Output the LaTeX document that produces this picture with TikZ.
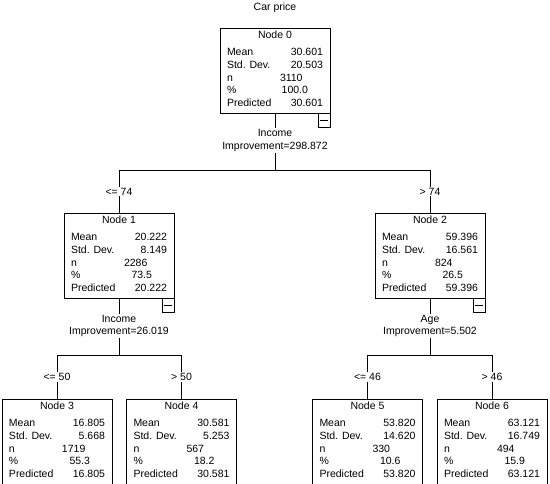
\documentclass[tikz,border=0pt]{standalone}
\usepackage{fontspec}
\setmainfont{Liberation Sans}
\usetikzlibrary{positioning}

\newcommand{\nodestats}[6]{%
  \makebox[96pt][c]{#1}\\[4.6pt]
  \makebox[96pt][l]{Mean\hfill #2}\\
  \makebox[96pt][l]{Std. Dev.\hfill #3}\\
  \makebox[96pt][l]{\makebox[53pt][l]{n}#4}\\
  \makebox[96pt][l]{\%\hfill #5\hspace*{15pt}}\\
  \makebox[96pt][l]{Predicted\hfill #6}\rule[-4pt]{0pt}{4pt}}

\begin{document}
\begin{tikzpicture}[x=1pt, y=-1pt,
    font=\fontsize{10.5}{12.7}\selectfont,
    tnode/.style={draw, anchor=north, align=left, inner xsep=7pt, inner ysep=2.5pt},
    minus/.style={draw, anchor=north east, minimum width=12pt, minimum height=14pt, inner sep=0pt},
    split/.style={fill=white, align=center, inner sep=1pt},
    cut/.style={fill=white, inner sep=1pt, pos=0.75}]
    \useasboundingbox (0,0) rectangle (550,484);
    \node (title) at (275,8) {Car price};

    % Nodes
    \node[tnode] (n0) at (275,28) {\nodestats{Node 0}{30.601}{20.503}{3110}{100.0}{30.601}};
    \node[tnode] (n1) at (119,213) {\nodestats{Node 1}{20.222}{8.149}{2286}{73.5}{20.222}};
    \node[tnode] (n2) at (430,213) {\nodestats{Node 2}{59.396}{16.561}{824}{26.5}{59.396}};
    \node[tnode] (n3) at (57,399) {\nodestats{Node 3}{16.805}{5.668}{1719}{55.3}{16.805}};
    \node[tnode] (n4) at (181.5,399) {\nodestats{Node 4}{30.581}{5.253}{567}{18.2}{30.581}};
    \node[tnode] (n5) at (367.5,399) {\nodestats{Node 5}{53.820}{14.620}{330}{10.6}{53.820}};
    \node[tnode] (n6) at (492,399) {\nodestats{Node 6}{63.121}{16.749}{494}{15.9}{63.121}};

    % Collapse boxes
    \node[minus] (n0m) at (n0.south east) {\rule{8pt}{0.8pt}};
    \node[minus] (n1m) at (n1.south east) {\rule{8pt}{0.8pt}};
    \node[minus] (n2m) at (n2.south east) {\rule{8pt}{0.8pt}};

    % Split variables
    \node[split] (s0) at (275,140.5) {Income\\Improvement=298.872};
    \node[split] (s1) at (119,326) {Income\\Improvement=26.019};
    \node[split] (s2) at (430,326) {Age\\Improvement=5.502};
    \coordinate (j0) at (275,170);
    \coordinate (j1) at (119,355);
    \coordinate (j2) at (430,355);

    % Edges
    \draw (n0) -- (s0);
    \draw (s0) -- (j0);
    \draw (j0) -| node[cut] {<= 74} (n1);
    \draw (j0) -| node[cut] {> 74} (n2);

    \draw (n1) -- (s1);
    \draw (s1) -- (j1);
    \draw (j1) -| node[cut] {<= 50} (n3);
    \draw (j1) -| node[cut] {> 50} (n4);

    \draw (n2) -- (s2);
    \draw (s2) -- (j2);
    \draw (j2) -| node[cut] {<= 46} (n5);
    \draw (j2) -| node[cut] {> 46} (n6);
\end{tikzpicture}
\end{document}
